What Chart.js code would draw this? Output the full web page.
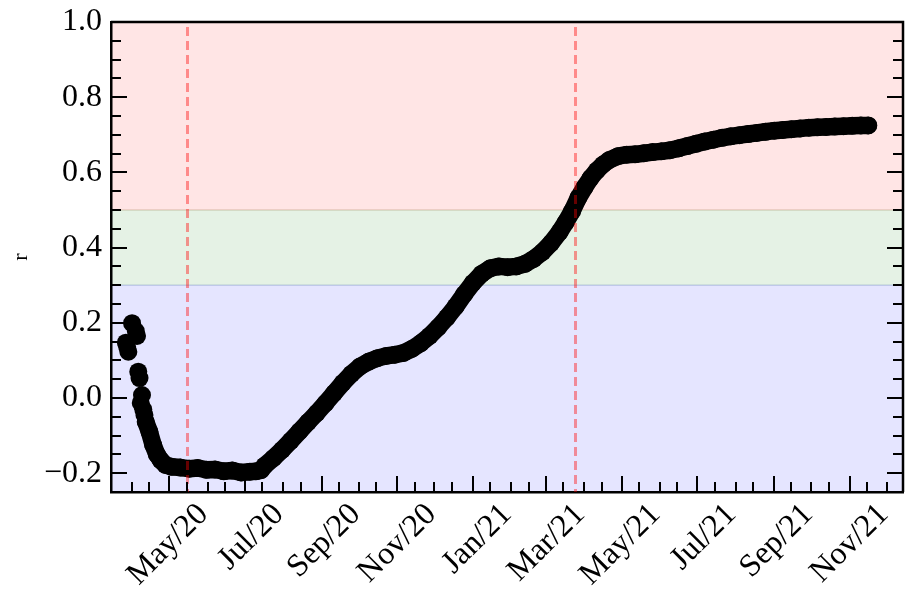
<!DOCTYPE html>
<html>
<head>
<meta charset="utf-8">
<script src="https://cdn.jsdelivr.net/npm/chart.js@4.4.1/dist/chart.umd.min.js"></script>
<style>
  html, body { margin: 0; padding: 0; background: #fff; overflow: hidden; }
</style>
</head>
<body>
<canvas id="chart" width="912" height="589"></canvas>
<script>
// loose markers at the start of the series
const earlyDates = ['2020-03-27', '2020-03-28', '2020-03-29', '2020-04-01', '2020-04-04', '2020-04-05',
  '2020-04-06', '2020-04-07', '2020-04-08', '2020-04-09', '2020-04-10', '2020-04-11'];
const earlyValues = [0.147, 0.136, 0.123, 0.199, 0.178, 0.165, 0.070, 0.053, -0.013, 0.008, -0.030, -0.045];

// the rest of the series
const mainDates = [
  '2020-04-12', '2020-04-15', '2020-04-18', '2020-04-21', '2020-04-24', '2020-04-28', '2020-05-03', '2020-05-10',
  '2020-05-17', '2020-05-24', '2020-05-31', '2020-06-07', '2020-06-14', '2020-06-21', '2020-06-28', '2020-07-05',
  '2020-07-10', '2020-07-14', '2020-07-17', '2020-07-24', '2020-07-31', '2020-08-07', '2020-08-14', '2020-08-21',
  '2020-08-28', '2020-09-04', '2020-09-11', '2020-09-18', '2020-09-25', '2020-10-02', '2020-10-09', '2020-10-16',
  '2020-10-23', '2020-10-30', '2020-11-06', '2020-11-13', '2020-11-20', '2020-11-27', '2020-12-04', '2020-12-11',
  '2020-12-18', '2020-12-25', '2021-01-01', '2021-01-08', '2021-01-15', '2021-01-22', '2021-01-29', '2021-02-05',
  '2021-02-12', '2021-02-19', '2021-02-26', '2021-03-05', '2021-03-12', '2021-03-17', '2021-03-22', '2021-03-27',
  '2021-04-01', '2021-04-06', '2021-04-11', '2021-04-16', '2021-04-21', '2021-04-28', '2021-05-05', '2021-05-12',
  '2021-05-19', '2021-05-26', '2021-06-02', '2021-06-09', '2021-06-16', '2021-06-23', '2021-06-30', '2021-07-07',
  '2021-07-14', '2021-07-21', '2021-07-28', '2021-08-04', '2021-08-11', '2021-08-18', '2021-08-25', '2021-09-01',
  '2021-09-08', '2021-09-15', '2021-09-22', '2021-09-29', '2021-10-06', '2021-10-13', '2021-10-20', '2021-10-27',
  '2021-11-03', '2021-11-10', '2021-11-16'];
const mainValues = [
  -0.063, -0.090, -0.125, -0.150, -0.165, -0.178, -0.183, -0.185,
  -0.188, -0.186, -0.191, -0.190, -0.195, -0.193, -0.198, -0.196,
  -0.195, -0.192, -0.180, -0.160, -0.138, -0.114, -0.089, -0.064,
  -0.040, -0.014, 0.013, 0.040, 0.064, 0.084, 0.097, 0.106,
  0.112, 0.115, 0.120, 0.131, 0.146, 0.165, 0.188, 0.214,
  0.243, 0.276, 0.306, 0.330, 0.345, 0.350, 0.348, 0.350,
  0.357, 0.370, 0.388, 0.412, 0.442, 0.468, 0.497, 0.532,
  0.560, 0.585, 0.605, 0.621, 0.633, 0.643, 0.647, 0.648,
  0.651, 0.654, 0.656, 0.659, 0.664, 0.670, 0.676, 0.682,
  0.687, 0.692, 0.696, 0.699, 0.702, 0.705, 0.708, 0.711,
  0.713, 0.715, 0.717, 0.719, 0.720, 0.721, 0.722, 0.723,
  0.724, 0.725, 0.725];

const monthTicks = ['2020-05-01', '2020-07-01', '2020-09-01', '2020-11-01', '2021-01-01',
  '2021-03-01', '2021-05-01', '2021-07-01', '2021-09-01', '2021-11-01'];
const monthNames = ['Jan', 'Feb', 'Mar', 'Apr', 'May', 'Jun', 'Jul', 'Aug', 'Sep', 'Oct', 'Nov', 'Dec'];
const eventDates = ['2020-05-15', '2021-03-24'];
const yTicks = [-0.2, 0.0, 0.2, 0.4, 0.6, 0.8, 1.0];
const bandLimits = [[0.5, 1.0], [0.3, 0.5], [-0.25, 0.3]];
const bandColors = ['rgba(255,0,0,0.1)', 'rgba(0,128,0,0.1)', 'rgba(0,0,255,0.1)'];

const xStart = '2020-03-15', xEnd = '2021-12-14';
const yMin = -0.25, yMax = 1.0;

const day = s => Date.UTC(+s.slice(0, 4), +s.slice(5, 7) - 1, +s.slice(8, 10)) / 86400000;
const fmtMonth = s => monthNames[+s.slice(5, 7) - 1] + '/' + s.slice(2, 4);
const tickLabels = {};
monthTicks.forEach(s => { tickLabels[day(s)] = fmtMonth(s); });

// minor ticks on the date axis: 1st and 15th of every month
const minorX = [];
for (let y = 2020; y <= 2021; y++) {
  for (let m = 0; m < 12; m++) {
    [1, 15].forEach(d => {
      const v = Date.UTC(y, m, d) / 86400000;
      if (v > day(xStart) && v < day(xEnd)) minorX.push(v);
    });
  }
}

const FONT = 'Liberation Serif';

const framePlugin = {
  id: 'frame',
  beforeDraw(chart) {
    const {ctx, chartArea: a, scales: {y}} = chart;
    ctx.save();
    bandLimits.forEach((b, i) => {
      const top = y.getPixelForValue(b[1]);
      const bot = y.getPixelForValue(b[0]);
      ctx.fillStyle = bandColors[i];
      ctx.fillRect(a.left, top, a.right - a.left, bot - top);
      ctx.strokeStyle = bandColors[i];
      ctx.lineWidth = 1.5;
      ctx.strokeRect(a.left, top, a.right - a.left, bot - top);
    });
    ctx.restore();
  },
  afterDatasetsDraw(chart) {
    const {ctx, chartArea: a, scales: {x}} = chart;
    ctx.save();
    ctx.strokeStyle = 'rgba(255,0,0,0.4)';
    ctx.lineWidth = 3;
    ctx.setLineDash([9, 5]);
    eventDates.forEach(s => {
      const px = Math.round(x.getPixelForValue(day(s))) + 0.5;
      ctx.beginPath();
      ctx.moveTo(px, a.top + 5);
      ctx.lineTo(px, a.bottom);
      ctx.stroke();
    });
    ctx.restore();
  },
  afterDraw(chart) {
    const {ctx, chartArea: a, scales: {x, y}} = chart;
    ctx.save();
    ctx.strokeStyle = '#000';
    ctx.lineWidth = 2;
    const major = 16, minor = 10;
    const hline = (py, len) => {
      ctx.beginPath(); ctx.moveTo(a.left, py); ctx.lineTo(a.left + len, py); ctx.stroke();
      ctx.beginPath(); ctx.moveTo(a.right, py); ctx.lineTo(a.right - len, py); ctx.stroke();
    };
    for (let v = yMin; v <= yMax + 1e-9; v += 0.05) {
      const isMajor = yTicks.some(t => Math.abs(t - v) < 1e-6);
      hline(Math.round(y.getPixelForValue(v)), isMajor ? major : minor);
    }
    minorX.forEach(v => {
      const isMajor = tickLabels[v] !== undefined;
      const px = Math.round(x.getPixelForValue(v));
      ctx.beginPath(); ctx.moveTo(px, a.bottom); ctx.lineTo(px, a.bottom - (isMajor ? major : minor)); ctx.stroke();
    });
    // top and right spines
    ctx.lineWidth = 2.5;
    ctx.beginPath();
    ctx.moveTo(a.left, a.top); ctx.lineTo(a.right, a.top); ctx.lineTo(a.right, a.bottom);
    ctx.stroke();
    ctx.restore();
  }
};

new Chart(document.getElementById('chart'), {
  type: 'scatter',
  data: {
    datasets: [
      {
        data: earlyDates.map((d, i) => ({x: day(d), y: earlyValues[i]})),
        backgroundColor: '#000',
        borderColor: '#000',
        pointRadius: 9,
        pointBorderWidth: 0,
        showLine: false
      },
      {
        data: mainDates.map((d, i) => ({x: day(d), y: mainValues[i]})),
        backgroundColor: '#000',
        borderColor: '#000',
        pointRadius: 9,
        pointBorderWidth: 0,
        showLine: true,
        borderWidth: 17.5,
        borderCapStyle: 'round',
        borderJoinStyle: 'round'
      }
    ]
  },
  options: {
    responsive: false,
    animation: false,
    layout: {padding: {top: 22, right: 4, left: 0, bottom: 0}},
    plugins: {legend: {display: false}, tooltip: {enabled: false}},
    scales: {
      x: {
        type: 'linear',
        min: day(xStart),
        max: day(xEnd),
        afterBuildTicks: scale => { scale.ticks = monthTicks.map(s => ({value: day(s)})); },
        afterFit: scale => {
          scale.height = 97;
          scale.paddingLeft = 0;
          scale.paddingRight = 0;
        },
        grid: {display: false, drawTicks: false},
        border: {display: true, color: '#000', width: 2.5},
        ticks: {
          autoSkip: false,
          maxRotation: 45,
          minRotation: 45,
          padding: 4,
          labelOffset: 34,
          color: '#000',
          font: {family: FONT, size: 32},
          callback: v => tickLabels[v] || ''
        }
      },
      y: {
        min: yMin,
        max: yMax,
        afterBuildTicks: scale => { scale.ticks = yTicks.map(v => ({value: v})); },
        afterFit: scale => {
          scale.width = 111;
          scale.paddingTop = 0;
          scale.paddingBottom = 0;
        },
        grid: {display: false, drawTicks: false},
        border: {display: true, color: '#000', width: 2.5},
        title: {display: true, text: 'r', color: '#000', font: {family: FONT, size: 22}, padding: {top: 8, bottom: 0}},
        ticks: {
          padding: 9,
          color: '#000',
          font: {family: FONT, size: 32},
          callback: v => (v < 0 ? '\u2212' : '') + Math.abs(v).toFixed(1)
        }
      }
    }
  },
  plugins: [framePlugin]
});
</script>
</body>
</html>
